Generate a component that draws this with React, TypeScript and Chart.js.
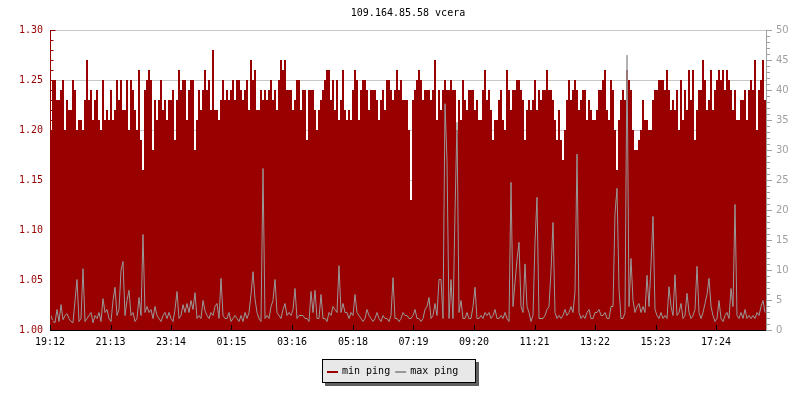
import React, { useEffect, useRef } from "react";
import { Chart, registerables } from "chart.js";

Chart.register(...registerables);

const chartTitle = "109.164.85.58 vcera";
const seriesNames = ["min ping", "max ping"];
const timeLabels = ["19:12", "21:13", "23:14", "01:15", "03:16", "05:18", "07:19", "09:20", "11:21", "13:22", "15:23", "17:24"];
const minutesPerSample = 4;
const leftTickValues = [1.0, 1.05, 1.1, 1.15, 1.2, 1.25, 1.3];
const rightTickValues = [0, 5, 10, 15, 20, 25, 30, 35, 40, 45, 50];

// min ping (ms), left axis
const minPing = [
  1.20,1.25,1.25,1.23,1.23,1.24,1.25,1.20,1.23,1.22,1.22,1.25,1.24,1.20,1.21,1.21,1.20,1.23,1.27,1.23,
  1.24,1.21,1.23,1.24,1.21,1.20,1.25,1.21,1.22,1.21,1.24,1.21,1.22,1.25,1.23,1.25,1.22,1.22,1.25,1.20,
  1.25,1.24,1.22,1.20,1.26,1.19,1.16,1.24,1.25,1.26,1.25,1.18,1.23,1.21,1.23,1.25,1.22,1.23,1.21,1.23,
  1.23,1.24,1.19,1.23,1.26,1.24,1.25,1.25,1.21,1.24,1.25,1.25,1.18,1.21,1.24,1.22,1.24,1.26,1.24,1.25,
  1.22,1.28,1.22,1.22,1.21,1.23,1.25,1.23,1.24,1.23,1.24,1.25,1.23,1.25,1.25,1.24,1.23,1.24,1.25,1.22,
  1.27,1.25,1.26,1.22,1.22,1.24,1.23,1.24,1.23,1.24,1.25,1.23,1.24,1.22,1.25,1.27,1.26,1.27,1.24,1.24,
  1.24,1.22,1.23,1.25,1.25,1.22,1.24,1.24,1.19,1.24,1.24,1.24,1.22,1.20,1.22,1.23,1.24,1.25,1.26,1.26,
  1.23,1.25,1.22,1.25,1.21,1.23,1.26,1.22,1.21,1.22,1.21,1.24,1.26,1.25,1.21,1.24,1.25,1.25,1.24,1.22,
  1.24,1.24,1.24,1.23,1.21,1.23,1.24,1.22,1.25,1.25,1.24,1.23,1.24,1.26,1.24,1.25,1.23,1.23,1.23,1.20,
  1.13,1.23,1.24,1.25,1.26,1.25,1.23,1.24,1.24,1.24,1.23,1.24,1.27,1.21,1.24,1.22,1.24,1.25,1.24,1.24,
  1.25,1.24,1.24,1.20,1.23,1.21,1.25,1.23,1.22,1.24,1.24,1.24,1.22,1.23,1.21,1.21,1.24,1.26,1.23,1.24,
  1.22,1.19,1.21,1.21,1.23,1.24,1.21,1.20,1.26,1.24,1.22,1.24,1.24,1.25,1.25,1.24,1.23,1.19,1.22,1.23,
  1.22,1.23,1.25,1.22,1.24,1.23,1.24,1.24,1.26,1.24,1.24,1.23,1.21,1.19,1.22,1.19,1.17,1.20,1.23,1.25,
  1.23,1.24,1.25,1.24,1.22,1.23,1.24,1.24,1.21,1.23,1.22,1.21,1.21,1.22,1.24,1.24,1.25,1.26,1.22,1.21,
  1.25,1.24,1.20,1.16,1.21,1.23,1.24,1.23,1.26,1.25,1.24,1.20,1.18,1.18,1.19,1.20,1.23,1.21,1.21,1.20,
  1.20,1.23,1.24,1.24,1.25,1.25,1.25,1.24,1.26,1.24,1.22,1.23,1.22,1.24,1.20,1.25,1.21,1.24,1.22,1.26,
  1.23,1.26,1.19,1.22,1.24,1.24,1.27,1.25,1.22,1.23,1.26,1.22,1.24,1.25,1.26,1.25,1.26,1.24,1.26,1.25,
  1.24,1.22,1.24,1.21,1.21,1.23,1.23,1.24,1.21,1.24,1.25,1.24,1.27,1.20,1.24,1.25,1.27,1.23,
];

// max ping (ms), right axis
const maxPing = [
  2.5,1.5,1.3,3.5,1.5,4.3,1.8,2.5,2.8,2.0,1.5,1.3,5,8.5,1.5,2,10.3,1.5,2,2.5,
  3,1.3,2.5,2,3,1.5,5.3,3,3.5,2,1.5,5,7.2,2.5,3.5,10,11.5,2.5,5,6.7,
  2.5,3,1.5,2,5.5,2.5,16,3,4,3,3.5,2,4,2.5,2,1.5,2.5,3,2,3,
  2,1.5,3.5,6.5,2,2.5,4.3,3,4.5,3,5,3.5,6.3,2,2.5,2,5,3.3,2.5,2,
  3,2.5,4,4.5,2,8.7,2.5,2,2,3,1.5,2,2.5,2,1.5,2.5,1.5,3,2,3,
  6,9.8,5.3,3,2,1.5,27,2,2.5,2,4,5,8.5,3,2.5,2,3.5,4.5,2.5,3,
  2.5,3.5,7,2,2.5,2.5,2.5,2,2,1.5,6.5,3,6.7,2,2,6,2,2,1.5,3,
  2.5,4,3.5,3,10.8,3,4.5,3,3,2,3,2.5,6,3,2.5,2,1.5,2,3.5,2.5,
  2,1.5,2,3,2,1.5,2.5,2,2,1.5,2.5,8.8,2,2,1.5,2,3,2.5,2.5,2,
  2,2.5,3.5,2,2,1.5,2,3.5,4,5.5,2,2.5,4.5,2.5,8.5,8.5,2,37.8,28.3,2,
  8.5,2,19.7,34.7,3,5,2,2,3,2,2,4,7.2,2,2,2.5,2,3,2.5,3,
  2,2.5,3.5,2,2,2.5,2,3,2,1.5,24.7,4,8,11.8,14.7,4,3,11.1,4,3,
  1.5,2.5,14.7,22.2,2,2,2,2.5,3.5,4,9.9,18,3,2,2.5,2,2.5,3.5,2.5,3,
  4,3,6.5,29.4,3,2,2.5,2,3,3.5,2,2,3,3,3.5,2.5,2.5,3,2,2,
  4,4,19.5,23.7,7,2,2,3,45.9,4,12,5,3,4,4.5,3,4,3,9.2,4,
  11,19,3.5,2.5,2,3,2,2.5,2,7.3,4,2.5,9.3,2.5,3,4.5,2,2.5,6.2,3,
  2,2.5,3.5,10.7,3,2,3,4.5,6,8.7,4,2.5,1.5,2,5,2,1.5,2.5,3,2,
  7,4,21,2.5,2,3,2,3.5,2,2.5,2,2.5,2,3,2.5,4,5,3,
];

const RED = "#990000";
const GREY = "#999999";
const MONO = "DejaVu Sans Mono";

function toMinutes(label: string): number {
  const [h, m] = label.split(":").map(Number);
  return h * 60 + m;
}
const startMin = toMinutes(timeLabels[0]);
const tickMinutes = timeLabels.map((l) => (toMinutes(l) - startMin + 1440) % 1440);

function stepPoints(values: number[]) {
  const pts = values.map((v, i) => ({ x: i * minutesPerSample, y: v }));
  pts.push({ x: values.length * minutesPerSample, y: values[values.length - 1] });
  return pts;
}
function centerPoints(values: number[]) {
  return values.map((v, i) => ({ x: (i + 0.5) * minutesPerSample, y: v }));
}

const decorPlugin = {
  id: "decor",
  beforeDatasetDraw(chart: any, args: any) {
    if (args.index === 1) {
      chart.ctx.save();
      chart.ctx.translate(0, 0.5);
    }
  },
  afterDatasetDraw(chart: any, args: any) {
    if (args.index === 1) chart.ctx.restore();
  },
  afterDraw(chart: any) {
    const ctx = chart.ctx;
    const ca = chart.chartArea;
    const xs = chart.scales.x;
    const yl = chart.scales.y;
    const yr = chart.scales.y1;
    ctx.save();
    ctx.lineWidth = 1;

    // left axis (red), ticks inward
    ctx.strokeStyle = RED;
    ctx.beginPath();
    ctx.moveTo(ca.left + 0.5, ca.top);
    ctx.lineTo(ca.left + 0.5, ca.bottom);
    const nl = Math.round((yl.max - yl.min) / 0.01);
    for (let k = 0; k <= nl; k++) {
      const y = Math.round(yl.getPixelForValue(yl.min + k * 0.01)) + 0.5;
      const len = k % 5 === 0 ? 5 : 3;
      ctx.moveTo(ca.left, y);
      ctx.lineTo(ca.left + len + 0.5, y);
    }
    ctx.stroke();

    // right axis (grey), ticks outward
    ctx.strokeStyle = "#a0a0a0";
    ctx.beginPath();
    ctx.moveTo(ca.right + 0.5, ca.top);
    ctx.lineTo(ca.right + 0.5, ca.bottom);
    const nr = Math.round(yr.max - yr.min);
    for (let k = 0; k <= nr; k++) {
      const y = Math.round(yr.getPixelForValue(yr.min + k)) + 0.5;
      const len = k % 5 === 0 ? 5 : 3;
      ctx.moveTo(ca.right, y);
      ctx.lineTo(ca.right + len + 1, y);
    }
    ctx.stroke();

    // x axis (black), ticks inward
    ctx.strokeStyle = "#000";
    ctx.beginPath();
    ctx.moveTo(ca.left, ca.bottom + 0.5);
    ctx.lineTo(ca.right, ca.bottom + 0.5);
    tickMinutes.forEach((m) => {
      const x = Math.round(xs.getPixelForValue(m)) + 0.5;
      ctx.moveTo(x, ca.bottom - 5);
      ctx.lineTo(x, ca.bottom);
    });
    ctx.stroke();

    // title
    ctx.fillStyle = "#000";
    ctx.font = `10px "${MONO}"`;
    ctx.textAlign = "center";
    ctx.textBaseline = "middle";
    ctx.fillText(chartTitle, Math.round((ca.left + ca.right) / 2), 13);

    // legend with shadow
    const bx = 322, by = 359, bw = 154, bh = 24;
    ctx.fillStyle = "#606060";
    ctx.fillRect(bx + 3, by + 3, bw, bh);
    ctx.fillStyle = "#e8e8e8";
    ctx.fillRect(bx, by, bw, bh);
    ctx.strokeStyle = "#000";
    ctx.strokeRect(bx + 0.5, by + 0.5, bw - 1, bh - 1);
    const colors = [RED, GREY];
    let cx = bx + 5;
    ctx.textAlign = "left";
    seriesNames.forEach((name, i) => {
      ctx.fillStyle = colors[i];
      ctx.fillRect(cx, by + 12, 11, 2);
      cx += 15;
      ctx.fillStyle = "#000";
      ctx.fillText(name, cx, by + 12);
      cx += ctx.measureText(name).width + 5;
    });
    ctx.restore();
  },
};

export default function App() {
  const canvasRef = useRef<HTMLCanvasElement | null>(null);

  useEffect(() => {
    const canvas = canvasRef.current;
    if (!canvas) return;
    const chart = new Chart(canvas, {
      type: "line",
      data: {
        datasets: [
          {
            label: seriesNames[0],
            data: stepPoints(minPing),
            yAxisID: "y",
            xAxisID: "x",
            stepped: true,
            fill: "start",
            backgroundColor: RED,
            borderColor: "rgba(0,0,0,0)",
            borderWidth: 0,
            pointRadius: 0,
            order: 2,
          },
          {
            label: seriesNames[1],
            data: centerPoints(maxPing),
            yAxisID: "y1",
            xAxisID: "x",
            tension: 0,
            fill: false,
            borderColor: GREY,
            borderWidth: 1,
            pointRadius: 0,
            order: 1,
          },
        ],
      } as any,
      options: {
        animation: false,
        responsive: false,
        devicePixelRatio: 1,
        layout: { padding: { top: 30, left: 0, right: 0, bottom: 0 } },
        plugins: {
          legend: { display: false },
          title: { display: false },
          tooltip: { enabled: false },
        },
        scales: {
          x: {
            type: "linear",
            min: 0,
            max: minPing.length * minutesPerSample,
            grid: { display: false, drawTicks: false },
            border: { display: false },
            afterBuildTicks: (s: any) => {
              s.ticks = tickMinutes.map((v) => ({ value: v }));
            },
            afterFit: (s: any) => {
              s.height = 70;
            },
            ticks: {
              autoSkip: false,
              maxRotation: 0,
              padding: 6,
              color: "#000",
              font: { family: MONO, size: 10 },
              callback: (_v: any, i: number) => timeLabels[i],
            },
          },
          y: {
            type: "linear",
            position: "left",
            min: 1.0,
            max: 1.3,
            grid: { color: "#c8c8c8", drawTicks: false, lineWidth: 1 },
            border: { display: false },
            afterBuildTicks: (s: any) => {
              s.ticks = leftTickValues.map((v) => ({ value: v }));
            },
            afterFit: (s: any) => {
              s.width = 50;
            },
            ticks: {
              padding: 7,
              color: RED,
              font: { family: MONO, size: 10 },
              callback: (v: any) => Number(v).toFixed(2),
            },
          },
          y1: {
            type: "linear",
            position: "right",
            min: 0,
            max: 50,
            grid: { display: false, drawOnChartArea: false, drawTicks: false },
            border: { display: false },
            afterBuildTicks: (s: any) => {
              s.ticks = rightTickValues.map((v) => ({ value: v }));
            },
            afterFit: (s: any) => {
              s.width = 34;
            },
            ticks: {
              padding: 10,
              color: "#a0a0a0",
              font: { family: "DejaVu Sans", size: 10 },
              callback: (v: any) => String(v),
            },
          },
        },
      } as any,
      plugins: [decorPlugin],
    });
    return () => chart.destroy();
  }, []);

  return (
    <div style={{ position: "absolute", left: 0, top: 0, width: 800, height: 400, background: "#fff" }}>
      <canvas ref={canvasRef} width={800} height={400} style={{ display: "block" }} />
    </div>
  );
}
